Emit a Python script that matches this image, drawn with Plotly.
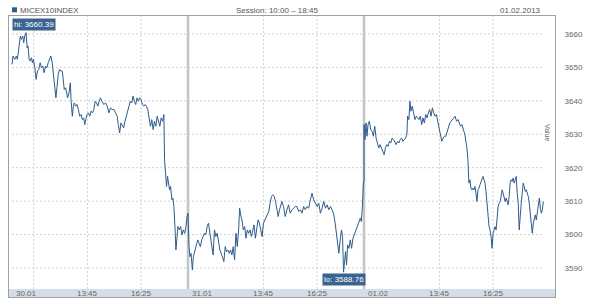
import plotly.graph_objects as go

# ---- data (minutes since 10:00 session open, index value) ----
days = ["30.01", "31.01", "01.02"]
session_len = 525  # 10:00 - 18:45

d1_t = [0, 3, 8, 13, 16, 20, 25, 28, 32, 35, 38, 42, 45, 48, 51, 54, 58, 61, 64, 68, 72, 76, 80, 84, 88, 92, 96, 100,
        104, 108, 112, 116, 120, 124, 128, 131, 134, 138, 142, 146, 150, 153, 156, 160, 163, 166, 170, 174, 176, 180,
        183, 186, 190, 194, 198, 202, 206, 210, 214, 217, 220, 224, 228, 232, 236, 240, 244, 248, 252, 256, 260, 264,
        268, 274, 279, 284, 289, 294, 299, 304, 309, 314, 317, 321, 325, 329, 333, 337, 341, 345, 349, 353, 357, 361,
        365, 369, 373, 377, 381, 385, 389, 393, 397, 401, 405, 409, 413, 417, 421, 425, 429, 433, 437, 441, 445, 449,
        453, 455, 458, 461, 464, 467, 470, 473, 477, 480, 483, 486, 489, 492, 495, 499, 503, 507, 511, 515, 519, 522, 525]
d1_v = [3650.9, 3653.4, 3652.4, 3653.4, 3652.4, 3655.4, 3659.4, 3658.4, 3659.4, 3657.4, 3659.4, 3660.39, 3655.9, 3656.4,
        3652.4, 3651.9, 3652.9, 3651.4, 3652.4, 3649.9, 3646.4, 3648.9, 3649.4, 3651.4, 3649.9, 3650.4, 3648.4, 3650.4,
        3649.9, 3651.4, 3652.4, 3653.4, 3651.4, 3647.9, 3645.4, 3640.9, 3643.9, 3647.9, 3649.4, 3648.9, 3648.9, 3645.4,
        3643.4, 3643.9, 3641.9, 3640.9, 3642.4, 3645.4, 3640.4, 3635.4, 3638.4, 3639.4, 3638.4, 3638.9, 3637.4, 3635.4,
        3635.9, 3634.4, 3634.9, 3632.9, 3634.4, 3635.9, 3636.4, 3635.4, 3636.9, 3636.4, 3637.4, 3639.9, 3639.4, 3638.4,
        3639.9, 3640.9, 3639.9, 3638.9, 3639.4, 3638.4, 3636.4, 3637.9, 3637.4, 3637.4, 3636.4, 3635.4, 3632.9, 3630.4,
        3633.4, 3632.4, 3631.9, 3633.9, 3635.4, 3636.9, 3638.9, 3639.9, 3639.4, 3641.4, 3639.9, 3638.9, 3640.9, 3639.9,
        3640.9, 3640.4, 3638.9, 3638.4, 3638.9, 3638.4, 3637.4, 3634.4, 3632.4, 3634.4, 3631.4, 3633.9, 3632.4, 3635.4,
        3633.4, 3632.4, 3634.9, 3633.9, 3635.9, 3622.4, 3618.4, 3614.4, 3617.4, 3615.4, 3613.4, 3614.4, 3610.4, 3610.9,
        3608.4, 3602.4, 3595.4, 3598.9, 3602.4, 3601.4, 3602.4, 3599.9, 3601.4, 3600.4, 3602.4, 3605.4, 3606.4]

d2_t = [3, 6, 9, 13, 16, 21, 25, 29, 33, 37, 41, 45, 49, 53, 57, 61, 64, 67, 71, 75, 79, 83, 87, 91, 95, 99, 103, 107,
        111, 115, 119, 123, 127, 131, 135, 139, 143, 147, 151, 154, 158, 161, 165, 169, 173, 177, 181, 185, 189, 193,
        197, 201, 205, 209, 213, 217, 221, 225, 229, 233, 237, 241, 245, 249, 253, 257, 261, 265, 269, 273, 280, 285,
        290, 295, 300, 305, 310, 315, 320, 325, 330, 335, 340, 345, 350, 355, 360, 365, 370, 375, 380, 385, 390, 395,
        400, 405, 410, 415, 420, 425, 430, 435, 439, 443, 447, 450, 454, 458, 461, 464, 467, 470, 473, 476, 480, 484,
        488, 492, 496, 500, 504, 507, 511, 514, 517, 520, 523, 525]
d2_v = [3596.4, 3593.4, 3594.4, 3589.4, 3593.4, 3595.4, 3596.4, 3598.4, 3597.4, 3596.4, 3598.4, 3599.4, 3600.4, 3599.9,
        3602.4, 3603.4, 3601.4, 3600.4, 3596.4, 3593.9, 3601.4, 3599.4, 3600.4, 3597.4, 3595.4, 3594.4, 3593.4, 3591.9,
        3596.4, 3594.9, 3595.4, 3594.4, 3595.4, 3593.9, 3596.4, 3592.4, 3600.4, 3596.4, 3601.4, 3607.9, 3605.4, 3604.4,
        3601.4, 3602.4, 3598.9, 3601.4, 3600.4, 3601.4, 3599.4, 3601.4, 3602.9, 3598.9, 3602.4, 3604.4, 3603.4, 3601.4,
        3599.4, 3603.4, 3604.4, 3605.4, 3606.4, 3606.9, 3609.4, 3611.4, 3611.9, 3611.4, 3609.9, 3607.4, 3605.4, 3607.4,
        3609.9, 3608.4, 3605.4, 3607.4, 3608.9, 3606.4, 3607.4, 3607.9, 3608.4, 3608.4, 3606.9, 3607.4, 3606.4, 3608.4,
        3607.4, 3608.4, 3607.9, 3610.4, 3612.4, 3610.4, 3609.4, 3608.4, 3609.4, 3606.4, 3607.9, 3609.9, 3607.9, 3608.9,
        3607.4, 3608.4, 3607.4, 3605.9, 3603.4, 3599.4, 3595.4, 3594.4, 3598.4, 3601.4, 3599.4, 3588.76, 3591.9, 3594.9,
        3590.9, 3596.9, 3595.9, 3598.4, 3595.9, 3598.9, 3599.9, 3600.9, 3601.9, 3602.9, 3603.9, 3604.9, 3603.9, 3607.9,
        3615.4, 3615.9]

d3_t = [0, 3, 6, 9, 12, 16, 20, 24, 28, 32, 36, 40, 44, 48, 52, 56, 60, 64, 68, 72, 76, 80, 84, 88, 92, 96, 100, 104,
        108, 112, 116, 120, 124, 128, 130, 134, 137, 140, 144, 148, 152, 156, 160, 164, 168, 172, 176, 180, 184, 188,
        192, 196, 200, 204, 208, 212, 216, 220, 224, 228, 232, 236, 240, 244, 248, 252, 256, 260, 264, 268, 272, 276,
        281, 284, 288, 292, 295, 298, 301, 304, 307, 310, 313, 316, 319, 322, 325, 328, 331, 334, 337, 340, 343, 346,
        349, 352, 355, 358, 361, 364, 367, 370, 373, 376, 379, 382, 385, 388, 391, 394, 397, 400, 403, 406, 409, 412,
        415, 418, 421, 424, 427, 430, 433, 436, 439, 442, 445, 448, 451, 454, 457, 460, 463, 466, 469, 472, 475, 478,
        481, 484, 487, 490, 493, 496, 499, 502, 505, 508, 511, 514, 517, 520, 523, 526, 529, 532, 535]
d3_v = [3632.9, 3628.4, 3633.4, 3629.4, 3632.9, 3633.9, 3631.4, 3630.9, 3629.4, 3632.4, 3628.9, 3627.4, 3625.9, 3626.9,
        3625.9, 3625.4, 3623.9, 3625.9, 3626.9, 3626.4, 3627.9, 3627.4, 3628.9, 3628.4, 3627.4, 3626.9, 3627.9, 3627.4,
        3628.4, 3628.9, 3627.9, 3628.4, 3628.9, 3629.9, 3635.4, 3634.4, 3639.9, 3636.9, 3638.4, 3636.4, 3634.4, 3635.4,
        3634.9, 3634.4, 3635.4, 3632.9, 3634.9, 3633.4, 3635.9, 3634.9, 3636.4, 3637.4, 3635.4, 3637.9, 3636.4, 3635.4,
        3635.9, 3633.9, 3632.4, 3630.4, 3627.9, 3628.9, 3629.4, 3629.4, 3630.9, 3632.4, 3633.4, 3633.9, 3634.4, 3634.9,
        3635.4, 3633.9, 3634.4, 3633.4, 3632.4, 3632.9, 3631.4, 3630.9, 3629.9, 3628.4, 3625.9, 3622.4, 3615.4, 3616.4,
        3613.9, 3613.4, 3613.9, 3613.4, 3614.4, 3612.4, 3609.9, 3613.4, 3613.9, 3614.9, 3615.9, 3616.4, 3617.4, 3616.4,
        3615.4, 3612.9, 3609.4, 3605.4, 3602.4, 3601.4, 3599.4, 3595.9, 3600.4, 3601.4, 3602.4, 3601.4, 3605.4, 3608.4,
        3609.4, 3609.9, 3611.4, 3613.4, 3612.4, 3611.4, 3609.9, 3610.9, 3609.4, 3608.9, 3611.4, 3615.4, 3616.4, 3615.9,
        3616.9, 3615.4, 3616.4, 3617.4, 3612.4, 3609.4, 3601.4, 3607.4, 3609.4, 3612.4, 3615.4, 3614.4, 3612.9, 3613.4,
        3612.4, 3611.4, 3609.4, 3606.4, 3603.4, 3600.4, 3603.4, 3604.4, 3605.9, 3604.4, 3606.4, 3609.4, 3610.9, 3607.9,
        3606.4, 3607.4, 3609.9]

y_ticks = [3590, 3600, 3610, 3620, 3630, 3640, 3650, 3660]
time_ticks = ["13:45", "16:25"]
extra_grid_time = "11:05"
title_left = "MICEX10INDEX"
title_mid = "Session: 10:00 – 18:45"
title_right = "01.02.2013"
hi_val, lo_val = 3660.39, 3588.76

# ---- build ----
LINE = "#2e5b8a"
GRID = "#d0d0d0"
TXT = "#666666"
FONT = "Liberation Sans, Arial, sans-serif"


def mins(hhmm):
    h, m = hhmm.split(":")
    return (int(h) - 10) * 60 + int(m)


xs, ys = [], []
for i, (t, v) in enumerate([(d1_t, d1_v), (d2_t, d2_v), (d3_t, d3_v)]):
    xs += [i * session_len + tt for tt in t]
    ys += v

hi_x = xs[ys.index(hi_val)]
lo_x = xs[ys.index(lo_val)]

fig = go.Figure()
fig.add_trace(go.Scatter(x=xs, y=ys, mode="lines", line=dict(color=LINE, width=1.0),
                         hoverinfo="skip", showlegend=False))

f = session_len / 176.0  # minutes per pixel
x0 = -3 * f
x1 = 543 * f
grid_end = xs[-1]
band = 8 / 281.0

shapes = []
# horizontal dotted grid
for yv in y_ticks:
    shapes.append(dict(type="line", xref="x", yref="y", x0=0, x1=grid_end, y0=yv, y1=yv,
                       line=dict(color=GRID, width=1, dash="2px,2px"), layer="below"))
# vertical dotted grid
vgrid = [mins(extra_grid_time)]
for i in range(3):
    vgrid += [i * session_len + mins(t) for t in time_ticks]
for xv in vgrid:
    shapes.append(dict(type="line", xref="x", yref="paper", x0=xv, x1=xv, y0=band, y1=1,
                       line=dict(color=GRID, width=1, dash="2px,2px"), layer="below"))
# day separators
for i in range(1, 3):
    shapes.append(dict(type="line", xref="x", yref="paper", x0=i * session_len, x1=i * session_len,
                       y0=band, y1=1, line=dict(color="#c4c4c4", width=2.5), layer="below"))
# bottom axis band
shapes.append(dict(type="rect", xref="paper", yref="paper", x0=0, x1=1, y0=0, y1=band,
                   fillcolor="#d5dee8", line=dict(width=0), layer="below"))
# legend square
shapes.append(dict(type="rect", xref="paper", yref="paper", x0=3 / 546, x1=8 / 546,
                   y0=1 + 3.7 / 281, y1=1 + 8.7 / 281, fillcolor=LINE, line=dict(width=0)))

ann = []
for i, d in enumerate(days):
    ann.append(dict(x=i * session_len, y=band / 2, xref="x", yref="paper", text=d, showarrow=False,
                    xanchor="left", yanchor="middle", xshift=2, font=dict(size=8, color=TXT, family=FONT)))
    for t in time_ticks:
        ann.append(dict(x=i * session_len + mins(t), y=band / 2, xref="x", yref="paper", text=t,
                        showarrow=False, xanchor="center", yanchor="middle",
                        font=dict(size=8, color=TXT, family=FONT)))

ann.append(dict(x=9.3 / 546, y=1 + 6 / 281, xref="paper", yref="paper", text=title_left, showarrow=False,
                xanchor="left", yanchor="middle", font=dict(size=8, color="#555555", family=FONT)))
ann.append(dict(x=268 / 546, y=1 + 6 / 281, xref="paper", yref="paper", text=title_mid, showarrow=False,
                xanchor="center", yanchor="middle", font=dict(size=8, color="#555555", family=FONT)))
ann.append(dict(x=534 / 546, y=1 + 6 / 281, xref="paper", yref="paper", text=title_right, showarrow=False,
                xanchor="right", yanchor="middle", font=dict(size=8, color="#555555", family=FONT)))
ann.append(dict(x=539 / 546, y=(297 - 132) / 281, xref="paper", yref="paper", text="Value", showarrow=False,
                textangle=90, xanchor="center", yanchor="middle", font=dict(size=7, color="#666666", family=FONT)))

ann.append(dict(x=0, y=hi_val, xref="x", yref="y", text="hi: %.2f" % hi_val, showarrow=False,
                xanchor="left", yanchor="bottom", yshift=2, bgcolor="#3a6390", borderpad=1,
                font=dict(size=8, color="white", family=FONT)))
ann.append(dict(x=lo_x, y=lo_val, xref="x", yref="y", text="lo: %.2f" % lo_val, showarrow=False,
                xanchor="center", yanchor="top", yshift=-1, bgcolor="#3a6390", borderpad=1,
                font=dict(size=8, color="white", family=FONT)))

fig.update_layout(
    width=600, height=301,
    margin=dict(l=9, r=45, t=16, b=4),
    paper_bgcolor="white", plot_bgcolor="white",
    shapes=shapes, annotations=ann,
    xaxis=dict(range=[x0, x1], showgrid=False, zeroline=False, showticklabels=False,
               showline=True, mirror=True, linecolor="#a0a0a0", linewidth=1),
    yaxis=dict(range=[3581.33, 3665.38], side="right", tickvals=y_ticks, showgrid=False, zeroline=False,
               showline=True, mirror=True, linecolor="#a0a0a0", linewidth=1,
               ticks="outside", ticklen=7, tickcolor="rgba(0,0,0,0)",
               tickfont=dict(size=8, color=TXT, family=FONT)),
)

fig.write_html("out.html")
